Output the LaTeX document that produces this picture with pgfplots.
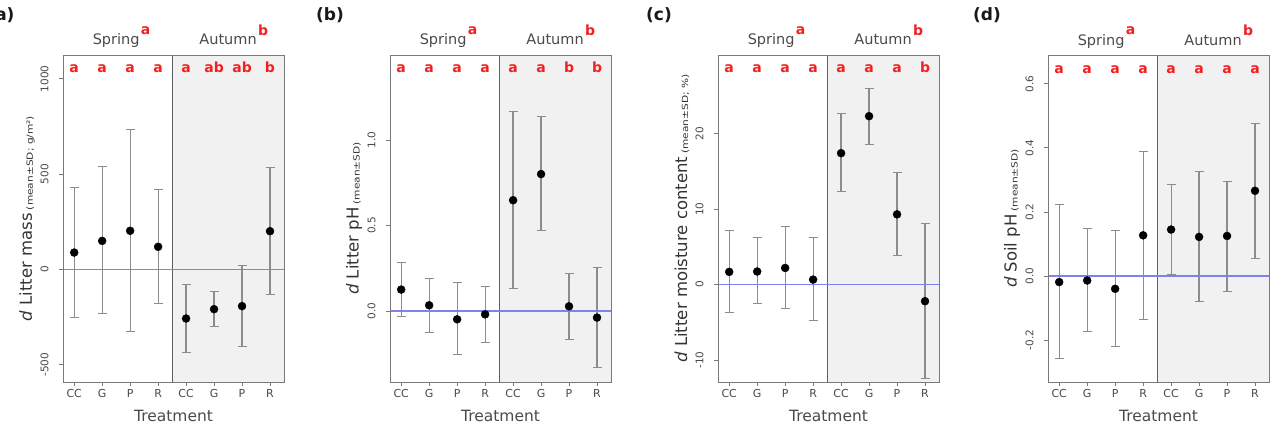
\documentclass[border=0pt]{standalone}
\usepackage{pgfplots}
\pgfplotsset{compat=1.18}
\usepackage{pgfplotstable}
\usepackage{graphicx}
\usepackage{fontspec}
\setmainfont{DejaVu Sans}
\definecolor{errgray}{HTML}{8C8C8C}
\definecolor{boxgray}{HTML}{7A7A7A}
\definecolor{divgray}{HTML}{5E5E5E}
\definecolor{zeroblue}{HTML}{8080F0}
\definecolor{autfill}{HTML}{F1F1F1}
\definecolor{letred}{HTML}{F42020}
\definecolor{txtgray}{HTML}{4A4A4A}

\pgfplotstableread{
x y lo hi
1 89 -252 430
2 150 -231 538
3 203 -323 736
4 119 -178 420
5 -257 -434 -77
6 -208 -297 -117
7 -192 -406 23
8 201 -131 535
}\dataa
\pgfplotstableread{
x y lo hi
1 0.125 -0.035 0.281
2 0.033 -0.125 0.191
3 -0.049 -0.254 0.164
4 -0.020 -0.186 0.146
5 0.648 0.129 1.170
6 0.801 0.469 1.139
7 0.027 -0.164 0.217
8 -0.039 -0.328 0.254
}\datab
\pgfplotstableread{
x y lo hi
1 1.68 -3.7 7.2
2 1.73 -2.5 6.2
3 2.2 -3.1 7.65
4 0.66 -4.8 6.2
5 17.4 12.3 22.6
6 22.3 18.5 26.0
7 9.3 3.85 14.8
8 -2.2 -12.4 8.05
}\datac
\pgfplotstableread{
x y lo hi
1 -0.019 -0.256 0.224
2 -0.014 -0.173 0.147
3 -0.040 -0.219 0.143
4 0.127 -0.135 0.388
5 0.145 0.005 0.285
6 0.122 -0.081 0.326
7 0.125 -0.048 0.296
8 0.266 0.056 0.476
}\datad

\pgfplotsset{panel/.style={
  scale only axis, width=221pt, height=327pt, anchor=south west,
  xmin=0.6, xmax=8.5, xtick={1,2,3,4,5,6,7,8},
  xticklabels={CC,G,P,R,CC,G,P,R},
  tick pos=left, tick align=outside, major tick length=4pt,
  axis on top,
  axis line style={boxgray, line width=0.9pt},
  tick style={boxgray, line width=0.8pt},
  xticklabel style={font=\fontsize{11}{12}\selectfont, text=txtgray},
  yticklabel style={font=\fontsize{10.5}{12}\selectfont, text=txtgray, rotate=90, anchor=south},
  yticklabel shift=7pt,
  clip=false,
}}

\newcommand{\lt}[2]{\node[anchor=base, yshift=-18pt, letred, font=\fontsize{14}{14}\selectfont\bfseries] at ({axis cs:#1,0}|-{rel axis cs:0,1}) {#2};}

\newcommand{\panelstuff}[9]{%
  \fill[autfill] ({axis cs:4.5,0}|-{rel axis cs:0,0}) rectangle (rel axis cs:1,1);
  \draw[divgray, line width=0.9pt] ({axis cs:4.5,0}|-{rel axis cs:0,0}) -- ({axis cs:4.5,0}|-{rel axis cs:0,1});
  \lt{1}{#1}\lt{2}{#2}\lt{3}{#3}\lt{4}{#4}\lt{5}{#5}\lt{6}{#6}\lt{7}{#7}\lt{8}{#8}
  \node[anchor=base, yshift=10pt, inner sep=0pt, text=txtgray, font=\fontsize{14.5}{15}\selectfont] (sp) at ({axis cs:2.5,0}|-{rel axis cs:0,1}) {Spring};
  \node[anchor=base west, inner sep=0pt, letred, font=\fontsize{14}{14}\selectfont\bfseries] at ([xshift=1pt,yshift=-1pt]sp.north east) {a};
  \node[anchor=base, yshift=10pt, inner sep=0pt, text=txtgray, font=\fontsize{14.5}{15}\selectfont] (au) at ({axis cs:6.5,0}|-{rel axis cs:0,1}) {Autumn};
  \node[anchor=base west, inner sep=0pt, letred, font=\fontsize{14}{14}\selectfont\bfseries] at ([xshift=1pt,yshift=-1pt]au.north east) {b};
  \node[anchor=base, yshift=-39pt, inner sep=0pt, text=txtgray, font=\fontsize{15.5}{16}\selectfont] at (rel axis cs:0.5,0) {Treatment};
  \node[rotate=90, anchor=center, inner sep=0pt, text=black!80, font=\fontsize{16.5}{17}\selectfont] at ([xshift=-36pt]rel axis cs:0,0.5) {#9};
}

\newcommand{\errplot}[1]{%
  \addplot[only marks, mark=*, mark size=4pt, black,
    error bars/.cd, y dir=both, y explicit,
    error bar style={errgray, line width=1.2pt},
    error mark options={errgray, line width=0.9pt, mark size=4.5pt, rotate=90}]
    table[x=x, y=y, y error plus expr=\thisrow{hi}-\thisrow{y}, y error minus expr=\thisrow{y}-\thisrow{lo}] {#1};
  \addplot[zeroblue, line width=1.3pt, forget plot] coordinates {(0.6,0) (8.5,0)};
}

\newcommand{\sub}[1]{\hspace{3pt}\raisebox{-1pt}{\scalebox{1.25}[1]{\fontsize{8.5}{9}\selectfont(#1)}}}

\begin{document}
\begin{tikzpicture}
\path[use as bounding box] (0pt,0pt) rectangle (1273pt,429pt);

\begin{axis}[panel, at={(63pt,47pt)}, ymin=-590, ymax=1125,
  ytick={-500,0,500,1000}, yticklabels={-500,0,500,1000}]
  \panelstuff{a}{a}{a}{a}{a}{ab}{ab}{b}{\textit{d} Litter mass\sub{mean±SD; g/m²}}
  \errplot{\dataa}
\end{axis}

\begin{axis}[panel, at={(390pt,47pt)}, ymin=-0.416, ymax=1.498,
  ytick={0,0.5,1}, yticklabels={0.0,0.5,1.0}]
  \panelstuff{a}{a}{a}{a}{a}{a}{b}{b}{\textit{d} Litter pH\sub{mean±SD}}
  \errplot{\datab}
\end{axis}

\begin{axis}[panel, at={(718pt,47pt)}, ymin=-12.9, ymax=30.4,
  ytick={-10,0,10,20}, yticklabels={-10,0,10,20}]
  \panelstuff{a}{a}{a}{a}{a}{a}{a}{b}{\textit{d} Litter moisture content\sub{mean±SD; \%}}
  \errplot{\datac}
\end{axis}

\begin{axis}[panel, at={(1048pt,47pt)}, ymin=-0.331, ymax=0.690,
  ytick={-0.2,0,0.2,0.4,0.6}, yticklabels={-0.2,0.0,0.2,0.4,0.6}]
  \panelstuff{a}{a}{a}{a}{a}{a}{a}{a}{\textit{d} Soil pH\sub{mean±SD}}
  \errplot{\datad}
\end{axis}

\node[font=\fontsize{17}{17}\selectfont\bfseries, text=black!90] at (1pt,414pt) {(a)};
\node[font=\fontsize{17}{17}\selectfont\bfseries, text=black!90] at (330pt,414pt) {(b)};
\node[font=\fontsize{17}{17}\selectfont\bfseries, text=black!90] at (659pt,414pt) {(c)};
\node[font=\fontsize{17}{17}\selectfont\bfseries, text=black!90] at (987pt,414pt) {(d)};
\end{tikzpicture}
\end{document}
